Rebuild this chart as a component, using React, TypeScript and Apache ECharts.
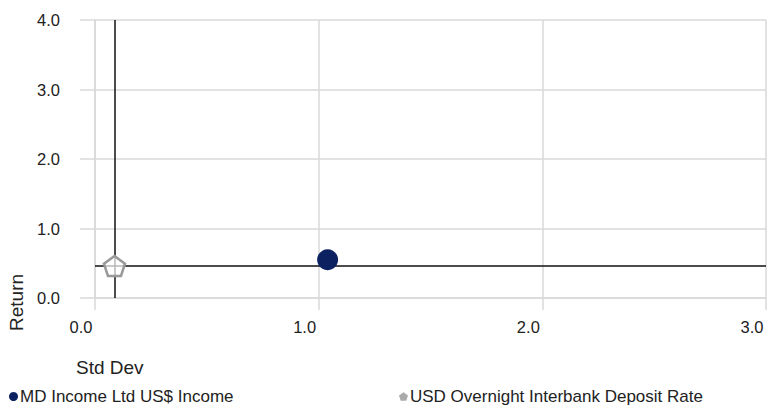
import React, { useEffect, useRef } from "react";
import * as echarts from "echarts";

const seriesNames = ["MD Income Ltd US$ Income", "USD Overnight Interbank Deposit Rate"];
const stdDevValues = [1.04, 0.087];
const returnValues = [0.55, 0.46];
const riskFreeStdDev = 0.087;
const riskFreeReturn = 0.46;
const xRange = [0, 3];
const yRange = [0, 4];
const axisTitles = { x: "Std Dev", y: "Return" };

const PENTAGON = "path://M0,-10 L9.51,-3.09 L5.88,8.09 L-5.88,8.09 L-9.51,-3.09 Z";
const NAVY = "#0c2160";
const FONT = "Liberation Sans, Arial, sans-serif";

export default function App() {
  const ref = useRef<HTMLDivElement>(null);
  useEffect(() => {
    if (!ref.current) return;
    const chart = echarts.init(ref.current, null, { renderer: "svg" });
    const gridColor = "#d9d9d9";
    chart.setOption({
      animation: false,
      textStyle: { fontFamily: FONT },
      grid: { left: 95, right: 2, top: 20, bottom: 107, containLabel: false, outerBoundsMode: "none" },
      xAxis: {
        type: "value",
        min: xRange[0],
        max: xRange[1],
        interval: 1,
        axisLine: { show: true, lineStyle: { color: gridColor, width: 1.5 } },
        axisTick: { show: true, length: 12, lineStyle: { color: gridColor, width: 1.5 } },
        splitLine: { show: true, lineStyle: { color: gridColor, width: 1.5 } },
        axisLabel: {
          margin: 20,
          fontSize: 16.5,
          color: "#222",
          fontFamily: FONT,
          padding: [0, 28, 0, 0],
          formatter: (v: number) => v.toFixed(1),
        },
      },
      yAxis: {
        type: "value",
        min: yRange[0],
        max: yRange[1],
        interval: 1,
        axisLine: { show: true, lineStyle: { color: gridColor, width: 1.5 } },
        axisTick: { show: true, length: 15, lineStyle: { color: gridColor, width: 1.5 } },
        splitLine: { show: true, lineStyle: { color: gridColor, width: 1.5 } },
        axisLabel: {
          margin: 35,
          fontSize: 16.5,
          color: "#222",
          fontFamily: FONT,
          formatter: (v: number) => v.toFixed(1),
        },
      },
      legend: [
        {
          left: 9,
          top: 388,
          padding: 0,
          itemWidth: 9,
          itemHeight: 9,
          textStyle: { fontSize: 17, color: "#222", fontFamily: FONT, padding: [0, 0, 0, -3] },
          data: [{ name: seriesNames[0], icon: "circle", itemStyle: { color: NAVY, opacity: 1 } }],
        },
        {
          left: 399,
          top: 388,
          padding: 0,
          itemWidth: 9,
          itemHeight: 9,
          textStyle: { fontSize: 17, color: "#222", fontFamily: FONT, padding: [0, 0, 0, -3] },
          data: [
            {
              name: seriesNames[1],
              icon: PENTAGON,
              itemStyle: { color: "#aaa", borderColor: "#999", borderWidth: 0, opacity: 1 },
            },
          ],
        },
      ],
      graphic: [
        {
          type: "text",
          left: 76,
          top: 358,
          style: { text: axisTitles.x, fontSize: 19, fill: "#222", fontFamily: FONT },
        },
        {
          type: "text",
          x: 7,
          y: 331,
          rotation: Math.PI / 2,
          style: {
            text: axisTitles.y,
            fontSize: 19,
            fill: "#222",
            fontFamily: FONT,
            align: "left",
            verticalAlign: "top",
          },
        },
      ],
      series: [
        {
          name: seriesNames[1],
          type: "scatter",
          z: 3,
          symbol: PENTAGON,
          symbolSize: [21, 20],
          itemStyle: { color: "rgba(255,255,255,0.7)", borderColor: "#999", borderWidth: 2.5, opacity: 1 },
          data: [[stdDevValues[1], returnValues[1]]],
          markLine: {
            silent: true,
            symbol: "none",
            label: { show: false },
            lineStyle: { color: "#111", width: 1.5, type: "solid" },
            data: [{ xAxis: riskFreeStdDev }, { yAxis: riskFreeReturn }],
            z: 2,
          },
        },
        {
          name: seriesNames[0],
          type: "scatter",
          z: 4,
          symbol: "circle",
          symbolSize: 21,
          itemStyle: { color: NAVY, opacity: 1 },
          data: [[stdDevValues[0], returnValues[0]]],
        },
      ],
    });
    return () => chart.dispose();
  }, []);
  return (
    <div
      ref={ref}
      style={{ position: "fixed", left: 0, top: 0, width: 768, height: 405, background: "#fff" }}
    />
  );
}
